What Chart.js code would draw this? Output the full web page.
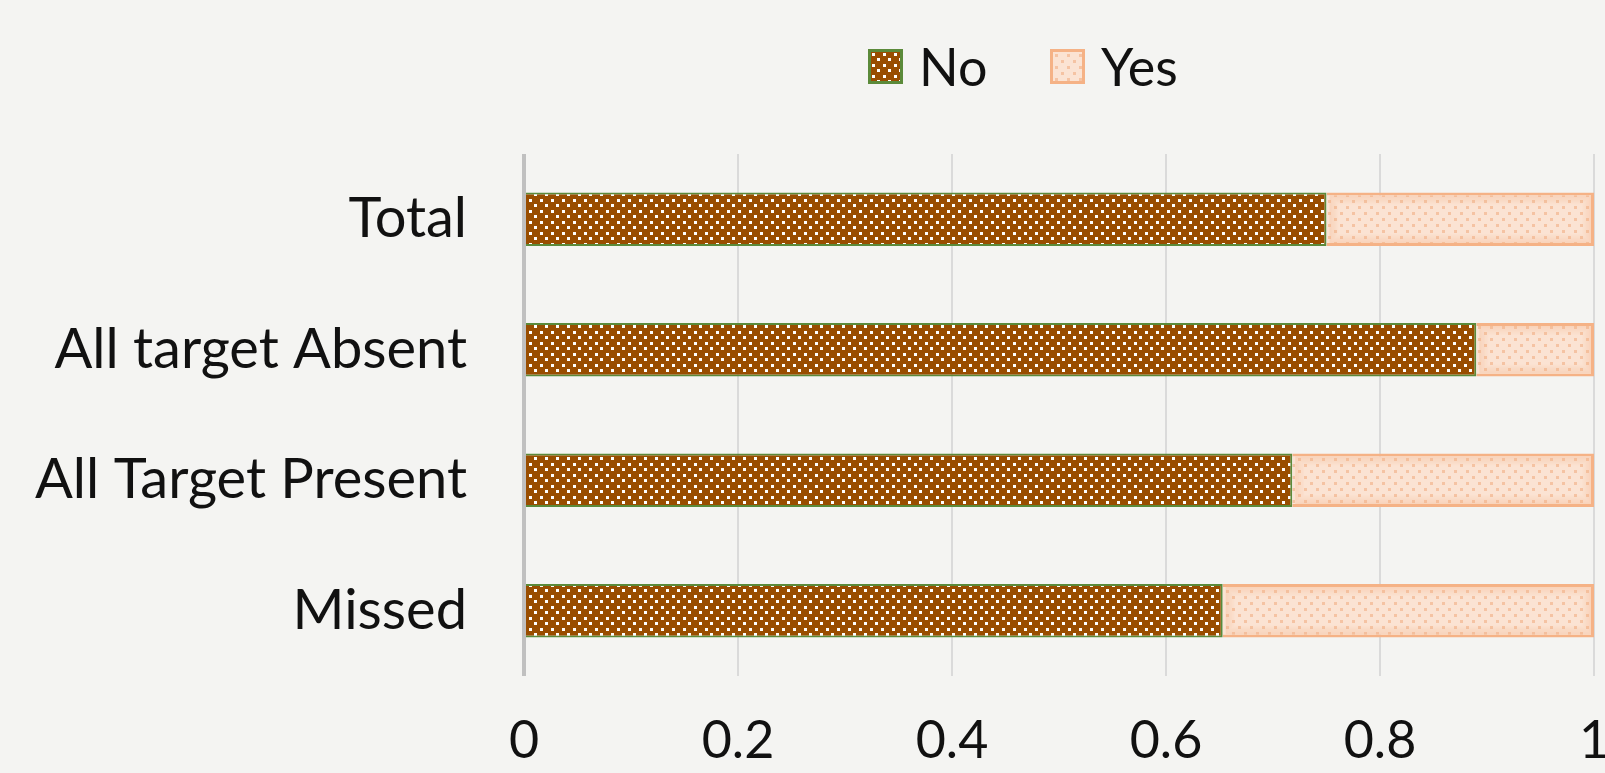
<!DOCTYPE html>
<html>
<head>
<meta charset="utf-8">
<script src="https://cdn.jsdelivr.net/npm/chart.js@4.4.1/dist/chart.umd.min.js"></script>
<style>
  html, body { margin: 0; padding: 0; background: #f4f4f2; }
  #wrap { position: relative; width: 1605px; height: 773px; }
  #legend {
    position: absolute; top: 0; left: 0; width: 1605px; height: 130px;
    font-family: Lato, sans-serif; font-size: 52px; color: #111;
  }
  .item { position: absolute; top: 34px; display: flex; align-items: center; height: 64px; }
  .swatch { width: 35px; height: 35px; box-sizing: border-box; margin-right: 16px; }
</style>
</head>
<body>
<div id="wrap">
  <canvas id="chart"></canvas>
  <div id="legend">
    <div class="item" style="left:868px"><div class="swatch" id="swNo"></div><span>No</span></div>
    <div class="item" style="left:1050px"><div class="swatch" id="swYes"></div><span>Yes</span></div>
  </div>
</div>
<script>
// Chart data
const categories = ["Total", "All target Absent", "All Target Present", "Missed"];
const noValues = [0.75, 0.89, 0.718, 0.653];
const yesValues = [0.25, 0.11, 0.282, 0.347];
const tickValues = [0, 0.2, 0.4, 0.6, 0.8, 1];

// Colours picked to match the Excel look
const colors = {
  brown: "#994d00",
  green: "#5b8a3a",
  peach: "#fbe3d3",
  peachDot: "#f5c3a3",
  peachBorder: "#f5b286",
  grid: "#dadada",
  axis: "#c0c0c0",
  text: "#111111"
};

// Build the dotted pattern tiles used by the bars and the legend swatches
function makeTile(size, base, dot, dotSize, spots) {
  const c = document.createElement("canvas");
  c.width = size; c.height = size;
  const g = c.getContext("2d");
  g.fillStyle = base;
  g.fillRect(0, 0, size, size);
  g.fillStyle = dot;
  spots.forEach(function(p) { g.fillRect(p[0], p[1], dotSize, dotSize); });
  return c;
}

const noTile = makeTile(11, colors.brown, "#ffffff", 3, [[1, 1], [6, 6]]);
const yesTile = makeTile(12, colors.peach, colors.peachDot, 3, [[2, 2], [8, 8]]);

const ctx = document.getElementById("chart").getContext("2d");
const noPattern = ctx.createPattern(noTile, "repeat");
const yesPattern = ctx.createPattern(yesTile, "repeat");

// legend swatches reuse the same tiles
const swNo = document.getElementById("swNo");
swNo.style.backgroundImage = "url(" + noTile.toDataURL() + ")";
swNo.style.border = "3px solid " + colors.green;
const swYes = document.getElementById("swYes");
swYes.style.backgroundImage = "url(" + yesTile.toDataURL() + ")";
swYes.style.border = "3px solid " + colors.peachBorder;

// soft inner glow on the "Yes" bars, like the Excel soft edge effect
const innerGlow = {
  id: "innerGlow",
  afterDatasetDraw: function(chart, args) {
    if (args.index !== 1) return;
    const c = chart.ctx;
    args.meta.data.forEach(function(bar) {
      const p = bar.getProps(["x", "y", "base", "height"], true);
      const left = Math.min(p.base, p.x), right = Math.max(p.base, p.x);
      const top = p.y - p.height / 2, h = p.height;
      c.save();
      for (let i = 0; i < 9; i++) {
        c.strokeStyle = "rgba(245,178,134," + (0.3 - i * 0.032) + ")";
        c.lineWidth = 1;
        c.strokeRect(left + 3.5 + i, top + 3.5 + i, right - left - 7 - 2 * i, h - 7 - 2 * i);
      }
      c.restore();
    });
  }
};

new Chart(ctx, {
  type: "bar",
  data: {
    labels: categories,
    datasets: [
      {
        label: "No",
        data: noValues,
        backgroundColor: noPattern,
        borderColor: colors.green,
        borderWidth: 2,
        categoryPercentage: 1,
        barPercentage: 0.41
      },
      {
        label: "Yes",
        data: yesValues,
        backgroundColor: yesPattern,
        borderColor: colors.peachBorder,
        borderWidth: 3,
        categoryPercentage: 1,
        barPercentage: 0.41
      }
    ]
  },
  options: {
    indexAxis: "y",
    responsive: true,
    maintainAspectRatio: false,
    animation: false,
    layout: { padding: { top: 154, right: 11, left: 0, bottom: 0 } },
    plugins: {
      legend: { display: false },
      tooltip: { enabled: false }
    },
    scales: {
      x: {
        stacked: true,
        min: 0,
        max: 1,
        afterBuildTicks: function(scale) {
          scale.ticks = tickValues.map(function(v) { return { value: v }; });
        },
        afterFit: function(scale) {
          scale.height = 97;
          // let the "1" label hang over the right padding, like the original
          scale.paddingLeft = 0;
          scale.paddingRight = 0;
        },
        border: { display: false },
        grid: {
          drawTicks: false,
          color: function(c) { return c.tick && c.tick.value === 0 ? colors.axis : colors.grid; },
          lineWidth: function(c) { return c.tick && c.tick.value === 0 ? 4 : 2; }
        },
        ticks: {
          color: colors.text,
          padding: 34,
          font: { family: "Lato", size: 52 },
          maxRotation: 0,
          callback: function(value) { return String(Number(value.toFixed(1))); }
        }
      },
      y: {
        stacked: true,
        afterFit: function(scale) { scale.width = 524; },
        border: { display: false },
        grid: { display: false, drawTicks: false },
        ticks: {
          color: colors.text,
          padding: 57,
          font: { family: "Lato", size: 56 }
        }
      }
    }
  },
  plugins: [innerGlow]
});
</script>
</body>
</html>
